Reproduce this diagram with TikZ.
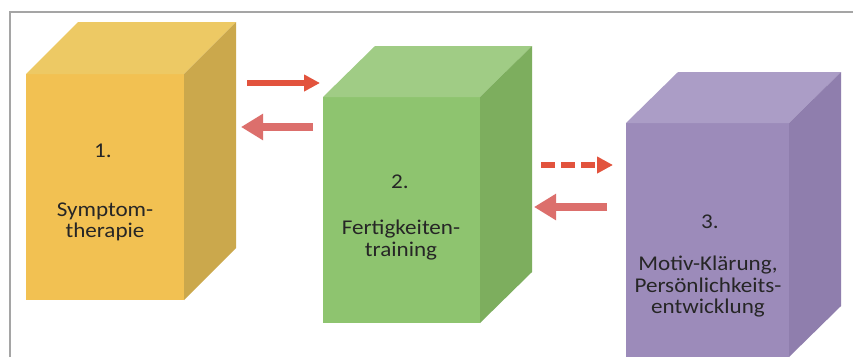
\documentclass[tikz,border=0pt]{standalone}
\usepackage{fontspec}
\newfontfamily\lbl{Carlito}[FakeStretch=1.1]
\usetikzlibrary{arrows.meta}
\definecolor{yfront}{HTML}{F2C152}
\definecolor{ytop}{HTML}{EDC964}
\definecolor{yside}{HTML}{CBA84C}
\definecolor{gfront}{HTML}{8EC46F}
\definecolor{gtop}{HTML}{A0CC85}
\definecolor{gside}{HTML}{7DAE5E}
\definecolor{pfront}{HTML}{9C8BBA}
\definecolor{ptop}{HTML}{AB9DC6}
\definecolor{pside}{HTML}{8F7EAD}
\definecolor{arred}{HTML}{E2533D}
\definecolor{arpink}{HTML}{DC6F6C}
\definecolor{txt}{HTML}{262626}
\definecolor{frame}{HTML}{A5A5A5}
\tikzset{
  lbltext/.style={font=\lbl\fontsize{21}{21.5}\selectfont, text=txt, align=center, inner sep=0pt},
  fwdarrow/.style={draw=arred, line width=6pt, -{Triangle[length=16pt,width=16pt]}},
  backarrow/.style={draw=arpink, line width=7.5pt, -{Triangle[length=22pt,width=25pt]}},
  dasharrow/.style={draw=arred, line width=6pt, dash pattern=on 14pt off 6pt, -{Triangle[length=16pt,width=16pt]}},
}
% box: #1 left, #2 right, #3 top, #4 bottom, #5 dx, #6 dy, colours #7 front #8 top #9 side
\newcommand{\cuboid}[9]{%
  \fill[#7] (#1,#3) rectangle (#2,#4);
  \fill[#8] (#1,#3) -- (#1+#5,#3-#6) -- (#2+#5,#3-#6) -- (#2,#3) -- cycle;
  \fill[#9] (#2,#3) -- (#2+#5,#3-#6) -- (#2+#5,#4-#6) -- (#2,#4) -- cycle;
}
\begin{document}
\begin{tikzpicture}[x=1pt,y=-1pt]
\useasboundingbox (0,0) rectangle (853,357);
\fill[white] (0,0) rectangle (853,357);
\draw[frame, line width=1.5pt] (10,357) -- (10,12) -- (853,12);

\cuboid{26}{184}{74}{300}{52}{52}{yfront}{ytop}{yside}
\cuboid{323}{480}{97}{323}{52}{51}{gfront}{gtop}{gside}
\cuboid{626}{789}{123}{357}{52}{51}{pfront}{ptop}{pside}

\node[lbltext] (n1) at (103,151) {1.};
\node[lbltext] (t1) at (105,222) {Symptom-\\therapie};
\node[lbltext] (n2) at (400,182) {2.};
\node[lbltext] (t2) at (401,240) {Fertigkeiten-\\training};
\node[lbltext] (n3) at (710,222) {3.};
\node[lbltext] (t3) at (708,287) {Motiv-Klärung,\\Persönlichkeits-\\entwicklung};

\coordinate (a1s) at (247,83);  \coordinate (a1e) at (320,83);
\coordinate (a2s) at (313,127); \coordinate (a2e) at (241,127);
\coordinate (a3s) at (541,165); \coordinate (a3e) at (613,165);
\coordinate (a4s) at (607,207); \coordinate (a4e) at (534,207);

\draw[fwdarrow] (a1s) -- (a1e);
\draw[backarrow] (a2s) -- (a2e);
\draw[dasharrow] (a3s) -- (a3e);
\draw[backarrow] (a4s) -- (a4e);
\end{tikzpicture}
\end{document}
